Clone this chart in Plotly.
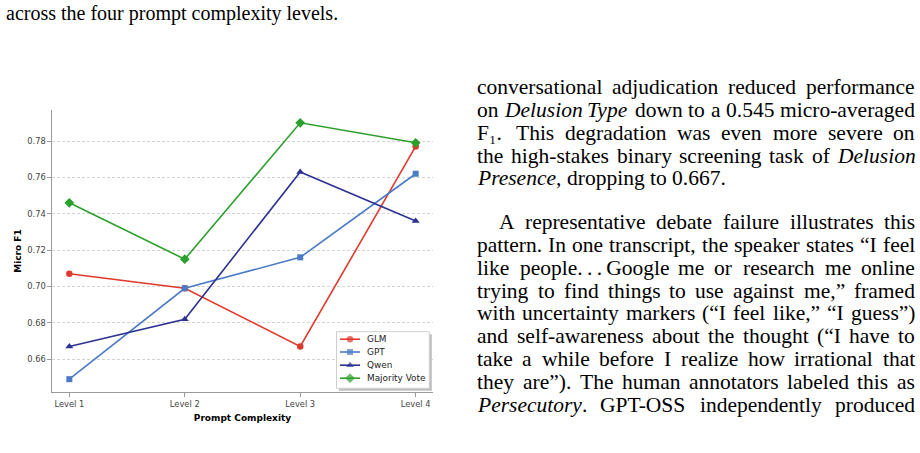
import re
import plotly.graph_objects as go

# ---------------- data ----------------
levels = ["Level 1", "Level 2", "Level 3", "Level 4"]
series_names = ["GLM", "GPT", "Qwen", "Majority Vote"]
glm_f1 = [0.707, 0.699, 0.667, 0.777]
gpt_f1 = [0.649, 0.699, 0.716, 0.762]
qwen_f1 = [0.667, 0.682, 0.763, 0.736]
majority_f1 = [0.746, 0.715, 0.790, 0.779]
y_ticks = [0.66, 0.68, 0.70, 0.72, 0.74, 0.76, 0.78]
y_tick_labels = ["0.66", "0.68", "0.70", "0.72", "0.74", "0.76", "0.78"]

caption_line = "across the four prompt complexity levels."
para1_lines = [
    "conversational adjudication reduced performance",
    "on <i>Delusion</i> <i>Type</i> down to a 0.545 micro-averaged",
    "F\u2081. This degradation was even more severe on",
    "the high-stakes binary screening task of <i>Delusion</i>",
    "<i>Presence</i>, dropping to 0.667.",
]
para2_lines = [
    "A representative debate failure illustrates this",
    "pattern. In one transcript, the speaker states “I feel",
    "like people.\u2009.\u2009.\u2009Google me or research me online",
    "trying to find things to use against me,” framed",
    "with uncertainty markers (“I feel like,” “I guess”)",
    "and self-awareness about the thought (“I have to",
    "take a while before I realize how irrational that",
    "they are”). The human annotators labeled this as",
    "<i>Persecutory</i>. GPT-OSS independently produced",
]

# ---------------- styling ----------------
colors = ["#e0392d", "#4a7bc4", "#2c3192", "#2ca02c"]
symbols = ["circle", "square", "triangle-up", "diamond"]
msizes = [6.5, 6, 7, 7.5]

W, H = 920, 453
ML, MR, MT, MB = 52, 487, 110, 61
PW, PH = W - ML - MR, H - MT - MB


def xp(px):
    return (px - ML) / PW


def yp(py):
    return (H - MB - py) / PH


fig = go.Figure()
all_vals = [glm_f1, gpt_f1, qwen_f1, majority_f1]
for name, vals, c, s, ms in zip(series_names, all_vals, colors, symbols, msizes):
    fig.add_trace(go.Scatter(
        x=levels, y=vals, name=name, mode="lines+markers",
        line=dict(color=c, width=1.6),
        marker=dict(symbol=s, size=ms, color=c, line=dict(width=0)),
        showlegend=False,
    ))

axis_font = dict(family="DejaVu Sans", size=8.3, color="#444444")
fig.update_xaxes(
    range=[-0.15, 3.15], showgrid=False, showline=True, linecolor="#9a9a9a", linewidth=1.2,
    ticks="outside", ticklen=3.5, tickwidth=1, tickcolor="#9a9a9a", tickfont=axis_font,
    title=dict(text="<b>Prompt Complexity</b>", font=dict(family="DejaVu Sans", size=9, color="black"), standoff=7),
    zeroline=False,
)
fig.update_yaxes(
    range=[0.64195, 0.79705], tickvals=y_ticks, ticktext=y_tick_labels,
    showgrid=True, gridcolor="#d3d3d3", griddash="3px,2px", gridwidth=0.8,
    showline=True, linecolor="#9a9a9a", linewidth=1.2,
    ticks="outside", ticklen=3.5, tickwidth=1, tickcolor="#9a9a9a", tickfont=axis_font,
    title=dict(text="<b>Micro F1</b>", font=dict(family="DejaVu Sans", size=9, color="black"), standoff=4),
    zeroline=False,
)

# overlay pixel-space axes for the legend
fig.update_layout(
    xaxis2=dict(overlaying="x", range=[ML, ML + PW], visible=False, fixedrange=True),
    yaxis2=dict(overlaying="y", range=[H - MB, MT], visible=False, fixedrange=True),
)

# ---------------- legend (matplotlib-style, with shadow) ----------------
LEG_X0, LEG_X1, LEG_Y0, LEG_Y1 = 336.5, 429.3, 331.7, 388.3
SH = 2.5


def rect_xy(x0, x1, y0, y1):
    return [x0, x1, x1, x0, x0], [y0, y0, y1, y1, y0]


sx, sy = rect_xy(LEG_X0 + SH, LEG_X1 + SH, LEG_Y0 + SH, LEG_Y1 + SH)
fig.add_trace(go.Scatter(x=sx, y=sy, xaxis="x2", yaxis="y2", mode="lines", fill="toself",
                         fillcolor="rgba(0,0,0,0.25)", line=dict(width=0),
                         showlegend=False, hoverinfo="skip"))
bx, by = rect_xy(LEG_X0, LEG_X1, LEG_Y0, LEG_Y1)
fig.add_trace(go.Scatter(x=bx, y=by, xaxis="x2", yaxis="y2", mode="lines", fill="toself",
                         fillcolor="white", line=dict(width=1, color="#cfcfcf"),
                         showlegend=False, hoverinfo="skip"))
leg_rows = [339.2, 352.0, 365.2, 378.2]
for name, c, s, ms, yc in zip(series_names, colors, symbols, msizes, leg_rows):
    fig.add_trace(go.Scatter(x=[340, 350, 360], y=[yc, yc, yc], xaxis="x2", yaxis="y2",
                             mode="lines+markers", line=dict(color=c, width=1.6),
                             marker=dict(symbol=s, size=[0, ms, 0], color=c, line=dict(width=0)),
                             showlegend=False, hoverinfo="skip"))
    fig.add_annotation(x=366, y=yc, xref="x2", yref="y2", text=name, showarrow=False,
                       xanchor="left", yanchor="middle", borderpad=0,
                       font=dict(family="DejaVu Sans", size=8.9, color="#222222"))

fig.update_layout(
    width=W, height=H, margin=dict(l=ML, r=MR, t=MT, b=MB, autoexpand=False),
    paper_bgcolor="white", plot_bgcolor="white", showlegend=False,
)

# ---------------- justified serif text ----------------
ROMAN = {' ': 250, 'a': 444, 'b': 500, 'c': 444, 'd': 500, 'e': 444, 'f': 333, 'g': 500, 'h': 500,
         'i': 278, 'j': 278, 'k': 500, 'l': 278, 'm': 778, 'n': 500, 'o': 500, 'p': 500, 'q': 500,
         'r': 333, 's': 389, 't': 278, 'u': 500, 'v': 500, 'w': 722, 'x': 500, 'y': 500, 'z': 444,
         'A': 722, 'C': 667, 'D': 722, 'F': 556, 'G': 722, 'I': 333, 'O': 722, 'P': 556, 'S': 556,
         'T': 611, '.': 250, ',': 250, '-': 333, '(': 333, ')': 333, '“': 444, '”': 444,
         '\u2009': 167, '\u2081': 500}
ITALIC = {'a': 500, 'c': 444, 'd': 500, 'e': 444, 'i': 278, 'l': 278, 'n': 500, 'o': 500, 'p': 500,
          'r': 389, 's': 389, 't': 278, 'u': 500, 'y': 444, 'D': 722, 'P': 611, 'T': 556}
for dch in "0123456789":
    ROMAN[dch] = 500


def word_width(word, size):
    total = 0.0
    ital = False
    for tok in re.split(r"(<[^>]+>)", word):
        if tok == "<i>":
            ital = True
        elif tok == "</i>":
            ital = False
        elif tok.startswith("<"):
            continue
        else:
            for ch in tok:
                table = ITALIC if ital else ROMAN
                total += table.get(ch, ROMAN.get(ch, 500))
    return total * size / 1000.0


TEXT_FONT = dict(family="Liberation Serif", size=21.5, color="black")
COL_L, COL_R = 476, 914
LINE_PITCH = 22.85


def place_line(text, y_center, x_left, justify):
    words = text.split(" ")
    size = TEXT_FONT["size"]
    widths = [word_width(w, size) for w in words]
    if justify and len(words) > 1:
        gap = (COL_R - x_left - sum(widths)) / (len(words) - 1)
    else:
        gap = 250 * size / 1000.0
    x = x_left
    for w, wd in zip(words, widths):
        fig.add_annotation(x=xp(x), y=yp(y_center), xref="paper", yref="paper",
                           text=w, showarrow=False, xanchor="left", yanchor="middle",
                           font=TEXT_FONT, borderpad=0)
        x += wd + gap


y0 = 87
for i, line in enumerate(para1_lines):
    place_line(line, y0 + i * LINE_PITCH, COL_L, justify=(i < len(para1_lines) - 1))
y1 = 222
for i, line in enumerate(para2_lines):
    place_line(line, y1 + i * LINE_PITCH, COL_L + 22 if i == 0 else COL_L, justify=True)

fig.add_annotation(x=xp(5), y=yp(14), xref="paper", yref="paper", text=caption_line,
                   showarrow=False, xanchor="left", yanchor="middle",
                   font=dict(family="Liberation Serif", size=20, color="black"), borderpad=0)

fig.write_html("out.html")
